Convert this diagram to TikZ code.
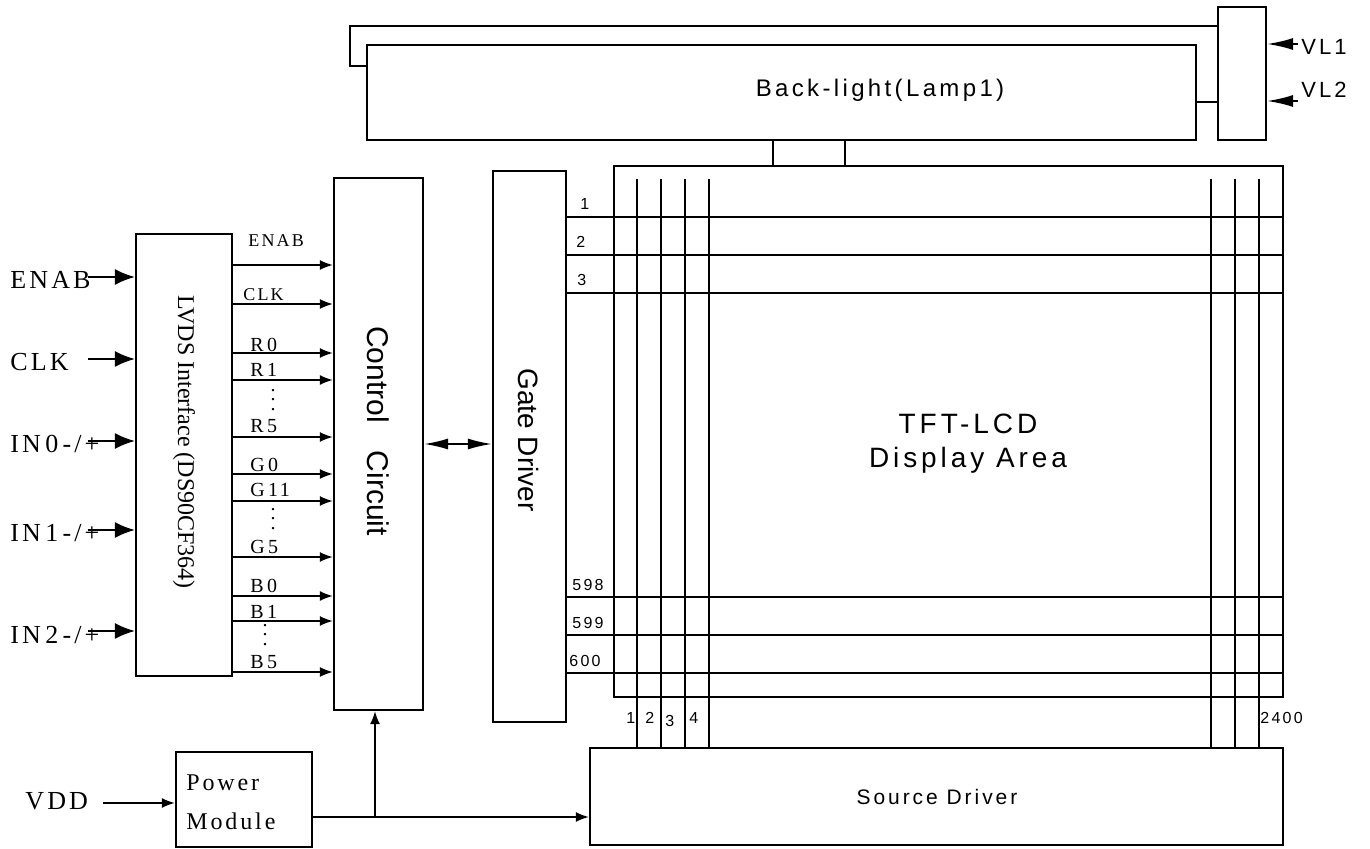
\documentclass[tikz,border=0pt]{standalone}
\usepackage{fontspec}
\setmainfont{Liberation Serif}
\setsansfont{Liberation Sans}
\newfontfamily\spacesans[LetterSpace=14]{Liberation Sans}
\newfontfamily\spaceserif[LetterSpace=12]{Liberation Serif}
\usetikzlibrary{arrows.meta, fit}
\tikzset{block/.style = {draw, line width = 1.1pt, inner sep = 0pt}}
\tikzset{wire/.style = {line width = 0.9pt}}
\tikzset{inarrow/.style = {wire, -{Latex[length = 10pt, width = 8pt]}}}
\tikzset{busarrow/.style = {wire, -{Latex[length = 6.5pt, width = 5pt]}}}
\tikzset{vlarrow/.style = {wire, -{Latex[length = 13pt, width = 6pt]}}}
\tikzset{sig/.style = {font = \spaceserif\fontsize{10}{12}\selectfont, inner sep = 0pt, anchor = base west}}
\tikzset{inlab/.style = {font = \spaceserif\fontsize{13}{15}\selectfont, inner sep = 0pt, anchor = base west}}
\tikzset{num/.style = {font = \spacesans\fontsize{8}{10}\selectfont, inner sep = 0pt, anchor = base west}}
\tikzset{dots/.style = {inner sep = 0pt, align = center, font = \rmfamily\fontsize{10}{4.8}\selectfont}}

\begin{document}
\begin{tikzpicture}[x = 0.5pt, y = -0.5pt]
	\useasboundingbox (0, 0) rectangle (1370, 849);

	% blocks
	\node[block, fit = {(367, 45) (1196, 140)}] (lamp) {};
	\node[block, fit = {(1218, 7) (1266, 140)}] (vl) {};
	\node[block, fit = {(614, 166) (1283, 697)}] (lcd) {};
	\node[block, fit = {(493, 171) (566, 722)}] (gate) {};
	\node[block, fit = {(334, 178) (423, 710)}] (ctrl) {};
	\node[block, fit = {(136, 234) (232, 676)}] (lvds) {};
	\node[block, fit = {(176, 752) (312, 847)}] (power) {};
	\node[block, fit = {(590, 748) (1283, 845)}] (src) {};

	\node[font = \spacesans\fontsize{12}{14}\selectfont] (lamptext) at (880, 90) {Back-light(Lamp1)};
	\node[font = \spacesans\fontsize{14}{17}\selectfont, align = center] (lcdtext) at (968, 444) {TFT-LCD\\Display Area};
	\node[font = \spacesans\fontsize{10.5}{12}\selectfont] (srctext) at (937, 797) {Source Driver};
	\node[font = \sffamily\fontsize{14}{16}\selectfont, rotate = -90] (gatetext) at (529, 440) {Gate Driver};
	\node[font = \sffamily\fontsize{15}{17}\selectfont, rotate = -90] (ctrltext) at (378, 431) {Control\hspace{14pt}Circuit};
	\node[font = \rmfamily\fontsize{12}{14}\selectfont, rotate = -90] (lvdstext) at (184, 442) {LVDS Interface (DS90CF364)};
	\node[inlab, font = \spaceserif\fontsize{12}{14}\selectfont] (pwr1) at (186, 790) {Power};
	\node[inlab, font = \spaceserif\fontsize{12}{14}\selectfont] (pwr2) at (186, 829) {Module};

	% back-light wiring
	\draw[wire] (lamp.west |- 0, 66) -- ++(-16, 0) |- (vl.west |- 0, 26);
	\draw[wire] (lamp.east |- 0, 102) -- (vl.west |- 0, 102);
	\draw[wire] (lamp.south -| 773, 0) -- (lcd.north -| 773, 0);
	\draw[wire] (lamp.south -| 845, 0) -- (lcd.north -| 845, 0);
	\coordinate (vlin1) at (1298, 44);
	\coordinate (vlin2) at (1298, 101);
	\draw[vlarrow] (vlin1) -- (vl.east |- vlin1);
	\draw[vlarrow] (vlin2) -- (vl.east |- vlin2);
	\node[inlab, font = \spacesans\fontsize{11}{13}\selectfont] (vl1) at (1301, 55) {VL1};
	\node[inlab, font = \spacesans\fontsize{11}{13}\selectfont] (vl2) at (1301, 98) {VL2};

	% panel lines
	\foreach \x in {637, 661, 685, 709, 1211, 1235, 1259}
		\draw[wire] (\x, 179) -- (src.north -| \x, 0);
	\foreach \y in {217, 255, 293, 597, 635, 673}
		\draw[wire] (gate.east |- 0, \y) -- (lcd.east |- 0, \y);
	\node[num] (g1) at (580, 210) {1};
	\node[num] (g2) at (576, 248) {2};
	\node[num] (g3) at (577, 286) {3};
	\node[num] (g598) at (572, 590) {598};
	\node[num] (g599) at (572, 628) {599};
	\node[num] (g600) at (569, 666) {600};
	\node[num] (s1) at (626, 723) {1};
	\node[num] (s2) at (645, 723) {2};
	\node[num] (s3) at (665, 726) {3};
	\node[num] (s4) at (689, 723) {4};
	\node[num] (s2400) at (1260, 723) {2400};

	\draw[wire, {Latex[length = 12pt, width = 5.5pt]}-{Latex[length = 12pt, width = 5.5pt]}] (ctrl.east |- 0, 444) -- (gate.west |- 0, 444);

	% inputs
	\node[inlab] (enab) at (10, 289) {ENAB};
	\node[inlab] (clk) at (10, 371) {CLK};
	\node[inlab] (in0) at (10, 453) {IN\,0\,-/+};
	\node[inlab] (in1) at (10, 542) {IN\,1\,-/+};
	\node[inlab] (in2) at (10, 643) {IN\,2\,-/+};
	\foreach \y in {277, 359, 441, 530, 631}
		\draw[inarrow] (88, \y) -- (lvds.west |- 0, \y);

	% lvds outputs
	\foreach \y in {265, 304, 353, 380, 437, 474, 501, 557, 596, 621, 672}
		\draw[busarrow] (lvds.east |- 0, \y) -- (ctrl.west |- 0, \y);
	\node[sig, font = \spaceserif\fontsize{9}{11}\selectfont] (oenab) at (248, 247) {ENAB};
	\node[sig, font = \spaceserif\fontsize{9}{11}\selectfont] (oclk) at (243, 301) {CLK};
	\node[sig] (r0) at (250, 352) {R\,0};
	\node[sig] (r1) at (250, 377) {R\,1};
	\node[sig] (r5) at (250, 433) {R\,5};
	\node[sig] (g0) at (250, 472) {G\,0};
	\node[sig] (g11) at (250, 497) {G\,11};
	\node[sig] (g5) at (250, 553) {G\,5};
	\node[sig] (b0) at (250, 592) {B\,0};
	\node[sig] (b1) at (250, 618) {B\,1};
	\node[sig] (b5) at (250, 668) {B\,5};
	\node[dots] (rdots) at (273, 400) {.\\.\\.};
	\node[dots] (gdots) at (273, 519) {.\\.\\.};
	\node[dots] (bdots) at (265, 635) {.\\.\\.};

	% power
	\node[inlab] (vdd) at (25, 809) {VDD};
	\coordinate (vddin) at (103, 803);
	\coordinate (tap) at (375, 817);
	\draw[busarrow] (vddin) -- (power.west |- vddin);
	\draw[busarrow] (power.east |- tap) -- (src.west |- tap);
	\draw[busarrow] (tap) -- (ctrl.south -| tap);
\end{tikzpicture}
\end{document}
